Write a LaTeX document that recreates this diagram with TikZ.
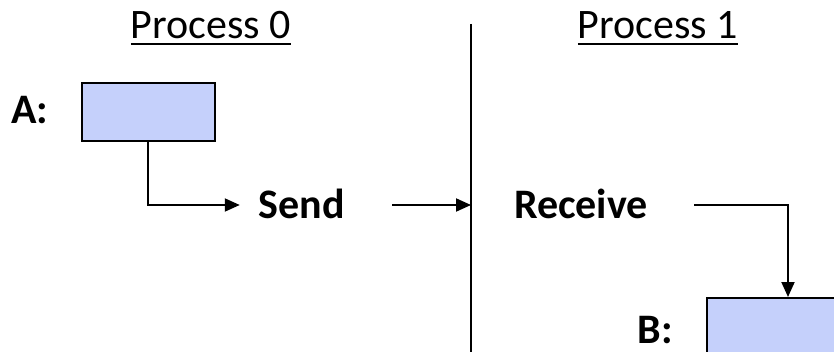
\documentclass[tikz,border=0pt]{standalone}
\usepackage{fontspec}
\setmainfont{Carlito}
\usetikzlibrary{arrows.meta}
\definecolor{boxblue}{RGB}{197,208,251}
\begin{document}
\begin{tikzpicture}[x=1pt,y=-1pt,
  title/.style={font=\fontsize{42}{50}\selectfont, inner sep=0pt, anchor=base},
  lbl/.style={font=\fontsize{42}{50}\selectfont\bfseries, inner sep=0pt, anchor=base, text depth=0pt},
  buffer/.style={draw=black, line width=2pt, fill=boxblue, minimum width=133pt, minimum height=58pt, inner sep=0pt, anchor=north west},
  conn/.style={line width=2pt, -{Triangle[length=15pt,width=13pt]}},
  plain/.style={line width=2pt}]
\useasboundingbox (0,0) rectangle (834,352);
% titles
\node[title] (p0) at (211,39) {Process 0};
\node[title] (p1) at (658,39) {Process 1};
\draw[line width=2.2pt] ([yshift=-5pt]p0.base west) -- ([yshift=-5pt]p0.base east);
\draw[line width=2.2pt] ([yshift=-5pt]p1.base west) -- ([yshift=-5pt]p1.base east);
% divider
\coordinate (dtop) at (471,24);
\coordinate (dbot) at (471,360);
\draw[line width=1.6pt] (dtop) -- (dbot);
% buffers
\node[buffer] (bufA) at (81,82) {};
\node[buffer] (bufB) at (706,297) {};
\node[lbl] (la) at (30,124) {A:};
\node[lbl] (lb) at (655,343) {B:};
% operations
\node[lbl] (send) at (302,219) {Send};
\node[lbl] (recv) at (581,219) {Receive};
% connectors
\coordinate (acorner) at (148,205);
\draw[conn] (bufA.south -| acorner) -- (acorner) -- ([xshift=-19pt]send.west |- acorner);
\coordinate (sstart) at (392,205);
\draw[conn] (sstart) -- (dtop |- sstart);
\coordinate (rstart) at (694,205);
\coordinate (rcorner) at (788,205);
\draw[conn] (rstart) -- (rcorner) -- (rcorner |- bufB.north);
\end{tikzpicture}
\end{document}
